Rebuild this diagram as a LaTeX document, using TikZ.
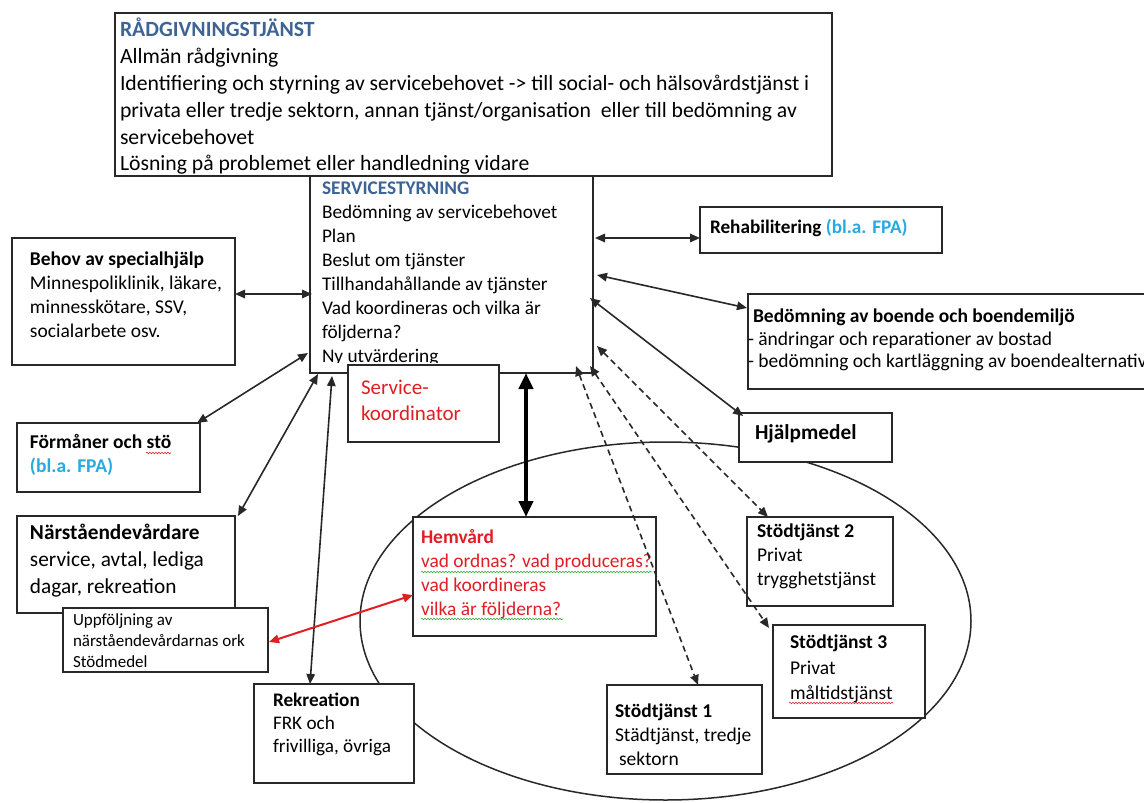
\documentclass[tikz,border=0pt]{standalone}
\usepackage{fontspec}
\setmainfont{Carlito}
\usetikzlibrary{arrows.meta,calc,decorations.pathmorphing}
\definecolor{bluet}{RGB}{60,100,150}
\definecolor{cyant}{RGB}{40,170,225}
\definecolor{redt}{RGB}{225,30,35}
\definecolor{edgec}{RGB}{40,40,40}
\definecolor{sqgreen}{RGB}{60,170,60}
\definecolor{sqred}{RGB}{220,40,40}
\newcommand\fsz[2]{\fontsize{#1}{#2}\selectfont}
\newcommand\tst{\rule{0pt}{0.8em}}
\begin{document}
\begin{tikzpicture}[x=1pt,y=-1pt,
 box/.style={draw=edgec,line width=1.9pt,fill=white,anchor=north west,inner sep=0pt,outer sep=0pt},
 tx/.style={anchor=north west,inner sep=0pt,outer sep=0pt,align=left},
 con/.style={draw=edgec,line width=1.6pt,{Triangle[length=10pt,width=8.5pt]}-{Triangle[length=10pt,width=8.5pt]}},
 dcon/.style={con,dash pattern=on 6pt off 4pt},
 thickcon/.style={draw=black,line width=4pt,{Triangle[length=16pt,width=14pt]}-{Triangle[length=16pt,width=14pt]}},
 redcon/.style={draw=redt,line width=2pt,{Triangle[length=10pt,width=8.5pt]}-{Triangle[length=10pt,width=8.5pt]}},
 sq/.style={decorate,decoration={snake,segment length=3pt,amplitude=0.8pt},line width=0.6pt}]
\useasboundingbox (0,0) rectangle (1144,803);
\clip (0,0) rectangle (1144,803);

% ellipse
\draw[edgec,line width=1.5pt] (665.5,621) ellipse [x radius=305.5pt, y radius=179pt];

% boxes
\node[box,minimum width=283pt,minimum height=197pt] (serv) at (310,176) {};
\node[box,minimum width=717pt,minimum height=163pt] (rad) at (115,13) {};
\node[tx,font=\fsz{21.7}{26.8}] (radT) at (120,18.3) {\tst\textcolor{bluet}{\textbf{RÅDGIVNINGSTJÄNST}}\\Allmän rådgivning\\Identifiering och styrning av servicebehovet -> till social- och hälsovårdstjänst i\\privata eller tredje sektorn, annan tjänst/organisation\ \ eller till bedömning av\\servicebehovet\\Lösning på problemet eller handledning vidare};
\begin{scope}
\clip (serv.north west) rectangle ($(serv.south east)+(0,-11)$);
\node[tx,font=\fsz{19.3}{24}] (servT) at (322,179.3) {\tst\textcolor{bluet}{\textbf{SERVICESTYRNING}}\\Bedömning av servicebehovet\\Plan\\Beslut om tjänster\\Tillhandahållande av tjänster\\Vad koordineras och vilka är\\följderna?\\Ny utvärdering};
\end{scope}
\node[box,minimum width=151pt,minimum height=77pt] (koord) at (348,365) {};
\node[tx,font=\fsz{21}{26},text=redt] (koordT) at (361,377.5) {\tst Service-\\koordinator};

\node[box,minimum width=223pt,minimum height=127pt] (beh) at (12,238) {};
\node[tx,font=\fsz{19.5}{24}] (behT) at (30,250) {\tst\textbf{Behov av specialhjälp}\\Minnespoliklinik, läkare,\\minnesskötare, SSV,\\socialarbete osv.};

\node[box,minimum width=183pt,minimum height=69pt] (form) at (17,423) {};
\node[tx,font=\fsz{19.5}{24}] (formT) at (30,433) {\tst\textbf{Förmåner och stö}\\\textcolor{cyant}{\textbf{(bl.a. FPA)}}};

\node[box,minimum width=218pt,minimum height=97pt] (nar) at (17,516) {};
\node[tx,font=\fsz{21.3}{27}] (narT) at (30,522.4) {\tst\textbf{Närståendevårdare}\\service, avtal, lediga\\dagar, rekreation};

\node[box,minimum width=205pt,minimum height=64pt] (upf) at (63,608) {};
\node[tx,font=\fsz{17}{21}] (upfT) at (73,611.5) {\tst Uppföljning av\\närståendevårdarnas ork\\Stödmedel};

\node[box,minimum width=160pt,minimum height=99pt] (rekr) at (254,684) {};
\node[tx,font=\fsz{19.2}{23}] (rekrT) at (273,691.4) {\tst\textbf{Rekreation}\\FRK och\\frivilliga, övriga};

\node[box,minimum width=243pt,minimum height=119pt] (hem) at (413,517) {};
\node[tx,font=\fsz{19.4}{24},text=redt] (hemT) at (421,528.3) {\tst\textbf{Hemvård}\\vad ordnas? vad produceras?\\vad koordineras\\vilka är följderna?};

\node[box,minimum width=242pt,minimum height=46pt] (rehab) at (700,207) {};
\node[tx,font=\fsz{19.2}{24}] (rehabT) at (710,218.4) {\tst\textbf{Rehabilitering \textcolor{cyant}{(bl.a. FPA)}}};

\node[box,minimum width=420pt,minimum height=95pt] (bed) at (748,294) {};
\node[tx,font=\fsz{19.5}{22.5}] (bedT) at (748,307.3) {\tst\hspace*{5pt}\textbf{Bedömning av boende och boendemiljö}\\- ändringar och reparationer av bostad\\- bedömning och kartläggning av boendealternativ};

\node[box,minimum width=153pt,minimum height=49pt] (hj) at (739,413) {};
\node[tx,font=\fsz{21.3}{26}] (hjT) at (755,422.4) {\tst\textbf{Hjälpmedel}};

\node[box,minimum width=146pt,minimum height=89pt] (st2) at (747,517) {};
\node[tx,font=\fsz{19.5}{24}] (st2T) at (757,522) {\tst\textbf{Stödtjänst 2}\\Privat\\trygghetstjänst};

\node[box,minimum width=152pt,minimum height=93pt] (st3) at (773,625) {};
\node[tx,font=\fsz{19.5}{25.5}] (st3T) at (790,633.25) {\tst\textbf{Stödtjänst 3}\\Privat\\måltidstjänst};

\node[box,minimum width=155pt,minimum height=89pt] (st1) at (607,685) {};
\node[tx,font=\fsz{19.5}{24}] (st1T) at (615,702.25) {\tst\textbf{Stödtjänst 1}\\Städtjänst, tredje\\\hspace*{4pt}sektorn};

% spell-check squiggles
\draw[sq,sqred] (146,453) -- (171,453);
\draw[sq,sqgreen] (421,572) -- (652,572);
\draw[sq,sqgreen] (421,619) -- (563,619);
\draw[sq,sqred] (789,703) -- (893,703);

% connectors
\draw[con] ($(beh.north east)+(0,56)$) -- ($(serv.north west)+(2,118)$);
\draw[con] ($(form.north east)+(-3,0)$) -- ($(serv.north west)+(-2,177)$);
\draw[con] ($(nar.north east)+(3,0)$) -- ($(serv.south west)+(8,1)$);
\draw[con] ($(rekr.north west)+(56,0)$) -- ($(serv.south west)+(22,3)$);
\draw[thickcon] ($(serv.south west)+(216,0)$) -- ($(hem.north west)+(113,0)$);
\draw[con] ($(serv.north east)+(2,62)$) -- ($(rehab.north west)+(0,31)$);
\draw[con] ($(serv.north east)+(4,99)$) -- ($(bed.north west)+(-1,14)$);
\draw[con] ($(serv.north east)+(-3,122)$) -- ($(hj.north west)+(4,3)$);
\draw[dcon] ($(serv.south east)+(-17,-7)$) -- ($(st1.north west)+(91,0)$);
\draw[dcon] ($(serv.south east)+(-3,-7)$) -- ($(st3.north west)+(-4,3)$);
\draw[dcon] ($(serv.north east)+(4,170)$) -- ($(st2.north west)+(21,0)$);
\draw[redcon] ($(upf.north east)+(1,34)$) -- ($(hem.north west)+(0,78)$);
\end{tikzpicture}
\end{document}
